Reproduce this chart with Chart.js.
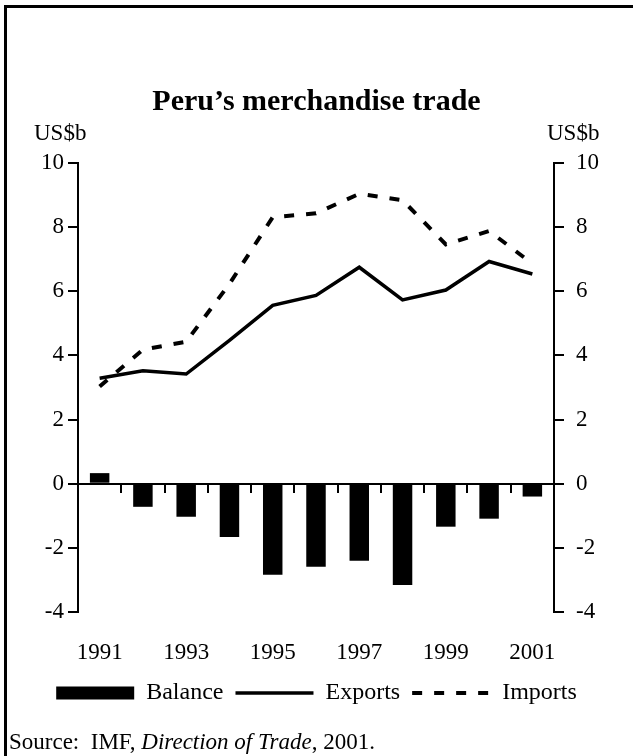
<!DOCTYPE html>
<html>
<head>
<meta charset="utf-8">
<script src="https://cdn.jsdelivr.net/npm/chart.js@4.4.1/dist/chart.umd.min.js"></script>
<style>
  html, body { margin: 0; padding: 0; background: #fff; }
  #wrap { position: relative; width: 633px; height: 756px; overflow: hidden; font-family: "Liberation Serif", "Times New Roman", serif; color: #000; }
  #frame { position: absolute; left: 4px; top: 5px; width: 700px; height: 800px; border-left: 3px solid #000; border-top: 3px solid #000; box-sizing: border-box; }
  canvas { position: absolute; left: 0; top: 0; }
  .txt { position: absolute; white-space: nowrap; line-height: 1; }
  #title { left: 0; width: 633px; text-align: center; top: 85px; font-size: 30px; font-weight: bold; }
  #unitL { left: 34px; top: 121px; font-size: 23px; }
  #unitR { left: 547px; top: 121px; font-size: 23px; }
  #source { left: 9px; top: 730px; font-size: 23px; }
</style>
</head>
<body>
<div id="wrap">
  <div id="frame"></div>
  <canvas id="c" width="633" height="756"></canvas>
  <div class="txt" id="title">Peru’s merchandise trade</div>
  <div class="txt" id="unitL">US$b</div>
  <div class="txt" id="unitR">US$b</div>
  <div class="txt" id="source">Source:&nbsp; IMF, <i>Direction of Trade</i>, 2001.</div>
</div>
<script>
const years = ['1991','1992','1993','1994','1995','1996','1997','1998','1999','2000','2001'];
const yearTickLabels = ['1991','','1993','','1995','','1997','','1999','','2001'];
const balance = [0.33, -0.72, -1.03, -1.66, -2.84, -2.59, -2.40, -3.16, -1.34, -1.09, -0.40];
const exportsData = [3.29, 3.52, 3.42, 4.47, 5.56, 5.87, 6.75, 5.73, 6.04, 6.93, 6.54];
const importsData = [3.03, 4.18, 4.43, 6.23, 8.31, 8.43, 9.04, 8.84, 7.46, 7.88, 6.86];
const yMin = -4, yMax = 10, yStep = 2;

const FONT = "'Liberation Serif', 'Times New Roman', serif";

const chart = new Chart(document.getElementById('c'), {
  data: {
    labels: years,
    datasets: [
      { type: 'bar', label: 'Balance', data: balance, backgroundColor: '#000', borderColor: '#000', borderWidth: 0,
        barPercentage: 1.0, categoryPercentage: 0.45, xAxisID: 'x', yAxisID: 'y', order: 2 },
      { type: 'line', label: 'Exports', data: exportsData, borderColor: '#000', backgroundColor: '#000', borderWidth: 3.5,
        pointRadius: 0, tension: 0, fill: false, xAxisID: 'x', yAxisID: 'y', order: 1 },
      { type: 'line', label: 'Imports', data: importsData, borderColor: '#000', backgroundColor: '#000', borderWidth: 4,
        borderDash: [10, 12], pointRadius: 0, tension: 0, fill: false, xAxisID: 'x', yAxisID: 'y', order: 0 }
    ]
  },
  options: {
    responsive: false,
    animation: false,
    devicePixelRatio: 1,
    layout: { padding: { top: 163, left: 0, right: 0, bottom: 41 } },
    plugins: {
      title: { display: false },
      tooltip: { enabled: false },
      legend: {
        display: true,
        position: 'bottom',
        labels: {
          usePointStyle: true,
          pointStyleWidth: 78,
          boxHeight: 13,
          padding: 12,
          color: '#000',
          font: { family: FONT, size: 24 },
          generateLabels: (ch) => ch.data.datasets.map((ds, i) => ({
            text: ds.label,
            fillStyle: ds.type === 'bar' ? '#000' : 'rgba(0,0,0,0)',
            strokeStyle: '#000',
            lineWidth: ds.type === 'bar' ? 0 : ds.borderWidth,
            lineDash: ds.borderDash || [],
            pointStyle: ds.type === 'bar' ? 'rect' : 'line',
            fontColor: '#000',
            hidden: false,
            datasetIndex: i
          }))
        }
      }
    },
    scales: {
      x: {
        type: 'category',
        position: { y: 0 },
        offset: true,
        ticks: { display: false },
        grid: { offset: true, drawOnChartArea: false, drawTicks: true, tickLength: 8, color: '#000', lineWidth: 2 },
        border: { display: true, color: '#000', width: 2 }
      },
      x2: {
        type: 'category',
        position: 'bottom',
        labels: yearTickLabels,
        offset: true,
        grid: { display: false, drawTicks: false, tickLength: 0 },
        border: { display: false },
        ticks: { autoSkip: false, maxRotation: 0, minRotation: 0, padding: 27, color: '#000', font: { family: FONT, size: 23 } },
        afterFit: (s) => { s.height = 57; }
      },
      y: {
        position: 'left',
        min: yMin, max: yMax,
        ticks: { stepSize: yStep, padding: 4, color: '#000', font: { family: FONT, size: 23 } },
        grid: { drawOnChartArea: false, drawTicks: true, tickLength: 10, color: '#000', lineWidth: 2 },
        border: { display: true, color: '#000', width: 2 },
        afterFit: (s) => { s.width = 78; }
      },
      y2: {
        position: 'right',
        min: yMin, max: yMax,
        ticks: { stepSize: yStep, padding: 12, color: '#000', font: { family: FONT, size: 23 } },
        grid: { drawOnChartArea: false, drawTicks: true, tickLength: 10, color: '#000', lineWidth: 2 },
        border: { display: true, color: '#000', width: 2 },
        afterFit: (s) => { s.width = 79; }
      }
    }
  }
});
</script>
</body>
</html>
